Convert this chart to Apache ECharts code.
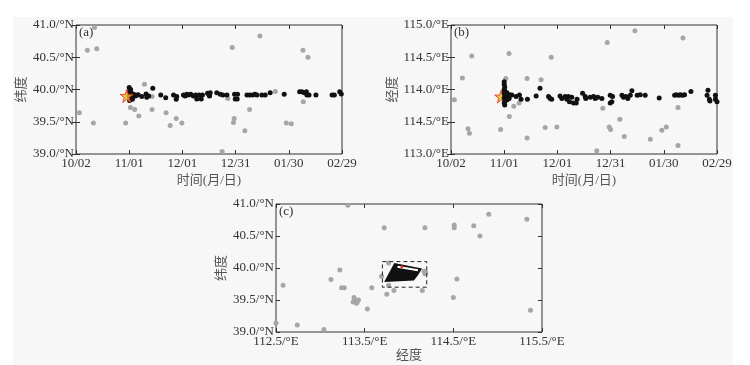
<!DOCTYPE html>
<html lang="zh">
<head>
  <meta charset="UTF-8">
  <title>余震时空分布</title>
  <script src="https://cdn.jsdelivr.net/npm/echarts@6/dist/echarts.min.js"></script>
  <style>
    html, body { margin: 0; padding: 0; background: #fff; }
    #chart { width: 750px; height: 365px; }
  </style>
</head>
<body>
  <div id="chart"></div>
  <script>
    // 刻度标签
    var dayTicks = ['10/02', '11/01', '12/01', '12/31', '01/30', '02/29'];
    var latTicks = ['39.0/°N', '39.5/°N', '40.0/°N', '40.5/°N', '41.0/°N'];
    var lonTicksB = ['113.0/°E', '114.5/°E', '114.0/°E', '114.5/°E', '115.0/°E'];
    var lonTicksC = ['112.5/°E', '113.5/°E', '114.5/°E', '115.5/°E'];

    // 主震 [天数(自10/02起), 纬度/经度]
    var starA = [[28.6, 39.90]];
    var starB = [[28.3, 113.89]];

    // (a) 时间-纬度
    var aGrey = [
      [1.9, 39.64], [6.4, 40.61], [10.4, 40.96], [11.7, 40.63], [9.8, 39.48], [28.0, 39.48],
      [30.7, 39.72], [33.1, 39.69], [35.4, 39.59], [38.6, 40.08], [42.9, 39.89], [42.9, 39.69],
      [50.8, 39.64], [53.1, 39.44], [56.5, 39.55], [59.7, 39.48], [82.4, 39.04], [85.6, 39.86],
      [88.1, 40.65], [89.2, 39.55], [88.8, 39.49], [95.2, 39.36], [97.9, 39.69], [103.7, 40.83],
      [112.4, 39.97], [118.6, 39.48], [121.4, 39.47], [128.0, 40.61], [130.8, 40.50], [128.2, 39.81]
    ];
    var aBlack = [
      [30, 40.03], [30.3, 39.98], [30, 39.95], [30.5, 39.92], [30, 39.89], [30.4, 39.86],
      [30.2, 39.83], [31, 39.95], [31.5, 39.90], [31.2, 39.87], [32, 39.93], [32.5, 39.90],
      [33, 39.92], [33.5, 39.90], [34, 39.91], [35, 39.92], [31.8, 39.85], [30.8, 40.00],
      [37.1, 39.89], [39.5, 39.93], [39.9, 39.88], [43.3, 40.02], [41, 39.90],
      [47.8, 39.915], [50.6, 39.873], [55.0, 39.915], [56.8, 39.89], [56.5, 39.85], [60.6, 39.915],
      [61.5, 39.90], [62.5, 39.925], [63.4, 39.915], [64.7, 39.925], [66.2, 39.90], [67.4, 39.915],
      [68.1, 39.853], [69.4, 39.915], [70.6, 39.853], [71.3, 39.915], [74.2, 39.94], [75.0, 39.915],
      [75.7, 39.95], [75.3, 39.90], [79.4, 39.95], [81.3, 39.925], [82.8, 39.915], [85.1, 39.915],
      [89.4, 39.925], [89.8, 39.853], [90.9, 39.853], [91.1, 39.925], [96.4, 39.915], [97.9, 39.915],
      [99.6, 39.915], [100.9, 39.925], [102.0, 39.915], [104.8, 39.915], [106.7, 39.915], [109.5, 39.95],
      [117.4, 39.925], [126.1, 39.967], [127.4, 39.967], [128.7, 39.95], [129.9, 39.967], [130.2, 39.915],
      [131.4, 39.915], [135.3, 39.915], [144.4, 39.915], [145.7, 39.915], [148.7, 39.967], [149.6, 39.93]
    ];

    // (b) 时间-经度
    var bGrey = [
      [1.9, 113.84], [6.4, 114.18], [9.6, 113.39], [10.4, 113.32], [11.7, 114.52], [28.0, 113.38],
      [30.9, 114.17], [32.7, 114.56], [32.9, 113.58], [35.4, 113.74], [38.4, 113.79], [42.9, 114.17],
      [42.9, 113.25], [50.8, 114.15], [53.1, 113.41], [56.5, 114.50], [59.7, 113.42], [82.2, 113.05],
      [85.6, 113.71], [88.1, 114.73], [89.2, 113.42], [90.0, 113.38], [95.2, 113.54], [97.7, 113.27],
      [103.7, 114.91], [112.4, 113.23], [118.9, 113.37], [121.4, 113.42], [128.0, 113.72], [128.0, 113.13],
      [130.8, 114.80]
    ];
    var bBlack = [
      [30, 114.12], [30, 114.08], [30.3, 114.04], [30, 114.00], [30.5, 113.97], [30, 113.94],
      [31, 113.92], [30.3, 113.90], [30, 113.87], [31, 113.85], [30.5, 113.82], [30, 113.79],
      [30.3, 113.76], [31.5, 113.95], [32, 113.90], [32.5, 113.88], [31.7, 113.84], [33, 113.92],
      [32.8, 113.86], [34.3, 113.915], [36.7, 113.89], [38.6, 113.915], [39.5, 113.85], [43.1, 113.85],
      [48.0, 113.90], [50.2, 114.02],
      [55.0, 113.89], [55.9, 113.86], [56.8, 113.85], [61.5, 113.90], [62.5, 113.86], [64.4, 113.89],
      [65.3, 113.85], [66.2, 113.89], [66.8, 113.81], [68.1, 113.88], [69.1, 113.79], [70.6, 113.79],
      [71.1, 113.85], [74.2, 113.94], [75.7, 113.89], [76.0, 113.86], [78.5, 113.88], [80.4, 113.89],
      [81.3, 113.86], [82.8, 113.88], [85.1, 113.86], [89.8, 113.91], [89.8, 113.79], [90.7, 113.81],
      [91.1, 113.89], [96.4, 113.91], [97.3, 113.88], [98.6, 113.89], [99.7, 113.86], [101.1, 113.91],
      [102.0, 113.98], [105.0, 113.91], [106.7, 113.92], [109.5, 113.91], [117.4, 113.87], [126.1, 113.91],
      [127.0, 113.92], [128.4, 113.91], [129.3, 113.92], [130.6, 113.91], [131.7, 113.92], [135.3, 113.97],
      [144.9, 113.99], [144.4, 113.91], [145.7, 113.85], [146.0, 113.82], [149.1, 113.91], [149.1, 113.85],
      [150.0, 113.81]
    ];

    // (c) 经度-纬度
    var cGrey = [
      [112.50, 39.14], [112.58, 39.73], [112.74, 39.11], [113.04, 39.04], [113.12, 39.82], [113.22, 39.97],
      [113.24, 39.69], [113.27, 39.69], [113.31, 40.98], [113.38, 39.54], [113.38, 39.48], [113.40, 39.46],
      [113.42, 39.48], [113.41, 39.45], [113.43, 39.50], [113.37, 39.47], [113.53, 39.36], [113.58, 39.69],
      [113.69, 39.87], [113.72, 40.63], [113.75, 39.59], [113.77, 40.08], [113.77, 39.73], [113.83, 39.65],
      [114.15, 39.65], [114.18, 40.63], [114.17, 39.95], [114.18, 39.91], [114.19, 39.93], [114.50, 39.54],
      [114.51, 40.67], [114.51, 40.63], [114.54, 39.83], [114.73, 40.66], [114.80, 40.50], [114.90, 40.84],
      [115.07, 38.99], [115.33, 40.76], [115.37, 39.34]
    ];
    var cRegion = [[113.74, 39.80], [113.84, 40.06], [114.13, 39.98], [114.09, 39.89], [114.05, 39.82]];
    var cGap = [[113.87, 40.02], [114.10, 39.965]];
    var cRed = [113.92, 40.02];
    var cBox = [[113.70, 39.70], [114.20, 40.10]];

    var chart = echarts.init(document.getElementById('chart'));

    var FONT = '"Liberation Serif", "Noto Sans CJK SC", serif';
    var INK = '#333';
    var GREY = '#a6a6a6';
    var BLACK = '#111';
    var STAR = 'path://M50,0 L61,35 L98,35 L68,57 L79,91 L50,70 L21,91 L32,57 L2,35 L39,35 Z';

    function fmt(labels, min, step) {
      return function (v) { return labels[Math.round((v - min) / step)] || ''; };
    }

    function axisPair(dim, grid, min, max, step, labels, name, gap) {
      var main = {
        type: 'value', gridIndex: grid, min: min, max: max, interval: step,
        axisLine: { show: false },
        axisTick: { inside: true, length: 4, lineStyle: { color: INK } },
        splitLine: { show: false },
        axisLabel: {
          formatter: fmt(labels, min, step), color: INK, fontFamily: FONT, fontSize: 13,
          margin: dim === 'x' ? 3 : 2, showMaxLabel: true, showMinLabel: true, hideOverlap: false
        },
        name: name, nameLocation: 'middle', nameGap: gap,
        nameTextStyle: { color: '#555', fontFamily: FONT, fontSize: 13 }
      };
      var twin = {
        type: 'value', gridIndex: grid, min: min, max: max, interval: step,
        position: dim === 'x' ? 'top' : 'right',
        axisLine: { show: false },
        axisTick: { inside: true, length: 4, lineStyle: { color: INK } },
        axisLabel: { show: false },
        splitLine: { show: false }
      };
      return [main, twin];
    }

    var xa = axisPair('x', 0, 0, 150, 30, dayTicks, '时间(月/日)', 20);
    var ya = axisPair('y', 0, 39, 41, 0.5, latTicks, '纬度', 48);
    var xb = axisPair('x', 1, 0, 150, 30, dayTicks, '时间(月/日)', 20);
    var yb = axisPair('y', 1, 113, 115, 0.5, lonTicksB, '经度', 52);
    var xc = axisPair('x', 2, 112.5, 115.5, 1, lonTicksC, '经度', 15);
    var yc = axisPair('y', 2, 39, 41, 0.5, latTicks, '纬度', 48);

    function dots(name, data, xi, yi, color, size, z) {
      return {
        name: name, type: 'scatter', xAxisIndex: xi, yAxisIndex: yi, data: data,
        symbolSize: size, itemStyle: { color: color, opacity: 1 }, z: z, silent: true
      };
    }

    function star(data, xi, yi, z) {
      return {
        type: 'scatter', xAxisIndex: xi, yAxisIndex: yi, data: data, symbol: STAR,
        symbolSize: 13, z: z, silent: true,
        itemStyle: { color: '#f4b41f', borderColor: '#e3301c', borderWidth: 1 }
      };
    }

    var gridBox = { show: true, borderColor: INK, borderWidth: 1, backgroundColor: 'transparent' };

    chart.setOption({
      animation: false,
      backgroundColor: '#fff',
      graphic: [
        { type: 'rect', left: 13, top: 17, shape: { width: 720, height: 348 }, style: { fill: '#f7f7f7' }, z: -10, silent: true },
        { type: 'text', left: 79, top: 26, style: { text: '(a)', font: '13px ' + FONT, fill: INK }, z: 100 },
        { type: 'text', left: 454, top: 26, style: { text: '(b)', font: '13px ' + FONT, fill: INK }, z: 100 },
        { type: 'text', left: 279, top: 205, style: { text: '(c)', font: '13px ' + FONT, fill: INK }, z: 100 }
      ],
      grid: [
        Object.assign({ left: 76, top: 25, width: 266, height: 129 }, gridBox),
        Object.assign({ left: 451, top: 25, width: 266, height: 129 }, gridBox),
        Object.assign({ left: 276, top: 204, width: 266, height: 128 }, gridBox)
      ],
      xAxis: [xa[0], xa[1], xb[0], xb[1], xc[0], xc[1]],
      yAxis: [ya[0], ya[1], yb[0], yb[1], yc[0], yc[1]],
      series: [
        dots('a-grey', aGrey, 0, 0, GREY, 5, 2),
        dots('a-black', aBlack, 0, 0, BLACK, 5, 3),
        star(starA, 0, 0, 4),
        dots('b-grey', bGrey, 2, 2, GREY, 5, 2),
        star(starB, 2, 2, 3),
        dots('b-black', bBlack, 2, 2, BLACK, 5, 4),
        dots('c-grey', cGrey, 4, 4, GREY, 5, 2),
        {
          type: 'custom', xAxisIndex: 4, yAxisIndex: 4, data: [0], z: 3, silent: true,
          renderItem: function (params, api) {
            var p0 = api.coord(cBox[0]), p1 = api.coord(cBox[1]);
            var g1 = api.coord(cGap[0]), g2 = api.coord(cGap[1]);
            var r = api.coord(cRed);
            return {
              type: 'group',
              children: [
                { type: 'polygon', shape: { points: cRegion.map(function (p) { return api.coord(p); }) },
                  style: { fill: BLACK, stroke: BLACK, lineWidth: 2 } },
                { type: 'line', shape: { x1: g1[0], y1: g1[1], x2: g2[0], y2: g2[1] },
                  style: { stroke: '#fff', lineWidth: 2 } },
                { type: 'circle', shape: { cx: r[0], cy: r[1], r: 1.5 }, style: { fill: '#e3301c' } },
                { type: 'rect', shape: { x: p0[0], y: p1[1], width: p1[0] - p0[0], height: p0[1] - p1[1] },
                  style: { fill: 'none', stroke: '#222', lineWidth: 1, lineDash: [4, 3] } }
              ]
            };
          }
        }
      ]
    });
  </script>
</body>
</html>
